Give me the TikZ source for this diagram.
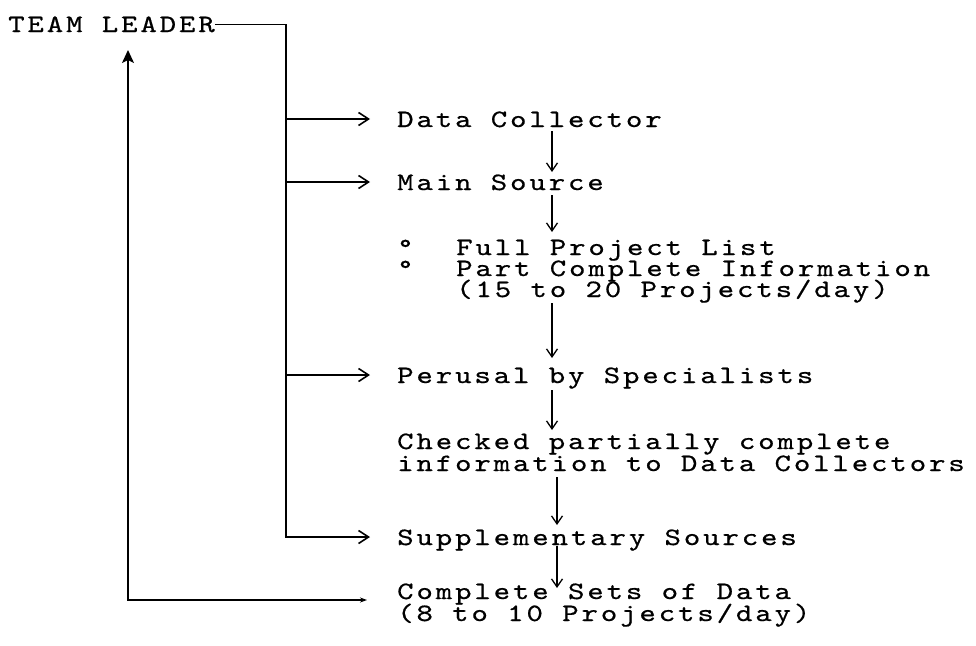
\documentclass[tikz,border=0pt]{standalone}
\usepackage{fontspec}
\usetikzlibrary{arrows.meta}
\newfontfamily\typewfam{lmmono10-regular.otf}[FakeStretch=1.25,LetterSpace=11.6,FakeBold=0.6]
\newcommand\typew{\typewfam\fontsize{25}{25}\selectfont}
\begin{document}
\begin{tikzpicture}[x=1pt,y=-1pt,
  every node/.style={inner sep=0pt, anchor=base west, font=\typew},
  main/.style={line width=1.6pt},
  br/.style={line width=1.6pt,-{Straight Barb[length=10pt,width=13pt,line width=1.6pt]}},
  dn/.style={line width=1.1pt,-{Straight Barb[length=8pt,width=11pt,line width=1.3pt]}}]
\useasboundingbox (0,0) rectangle (976,645);
\coordinate (bx) at (286,0);
\coordinate (xa) at (552,0);
\coordinate (xb) at (557,0);
\coordinate (fx) at (128,0);
% texts
\node (tl) at (8,32) {TEAM LEADER};
\node (dc) at (397,127) {Data Collector};
\node (ms) at (397,190) {Main Source};
\node (b1) at (397,255) {°};
\node (fp) at (456,255) {Full Project List};
\node (b2) at (397,276) {°};
\node (pc) at (456,276) {Part Complete Information};
\node (pd) at (456,297) {(15 to 20 Projects/day)};
\node (ps) at (397,383) {Perusal by Specialists};
\node (ck) at (397,449) {Checked partially complete};
\node (inf) at (397,471) {information to Data Collectors};
\node (ss) at (397,545) {Supplementary Sources};
\node (cs) at (397,599) {Complete Sets of Data};
\node (cp) at (397,621) {(8 to 10 Projects/day)};
% bus from team leader
\draw[br] (tl.east) -| ([yshift=8pt]ss.base west -| bx) -- ([xshift=-27pt,yshift=8pt]ss.base west);
\draw[br] ([yshift=8pt]dc.base west -| bx) -- ([xshift=-27pt,yshift=8pt]dc.base west);
\draw[br] ([yshift=8pt]ms.base west -| bx) -- ([xshift=-27pt,yshift=8pt]ms.base west);
\draw[br] ([yshift=8pt]ps.base west -| bx) -- ([xshift=-27pt,yshift=8pt]ps.base west);
% feedback
\draw[main,{Stealth[length=13pt,width=12pt,inset=3pt]}-{Stealth[length=7pt,width=5pt]}]
  ([yshift=-18pt]tl.base -| fx) |- ([xshift=-30pt,yshift=-1pt]cs.base west);
% vertical flow arrows
\draw[dn] ([yshift=-4pt]dc.base -| xa) -- ([yshift=18pt]ms.base -| xa);
\draw[dn] ([yshift=-5pt]ms.base -| xa) -- ([yshift=23pt]fp.base -| xa);
\draw[dn] ([yshift=-6pt]pd.base -| xa) -- ([yshift=25pt]ps.base -| xa);
\draw[dn] ([yshift=-7pt]ps.base -| xa) -- ([yshift=19pt]ck.base -| xa);
\draw[dn] ([yshift=-6pt]inf.base -| xb) -- ([yshift=20pt]ss.base -| xb);
\draw[dn] ([yshift=-1pt]ss.base -| xb) -- ([yshift=11pt]cs.base -| xb);
\end{tikzpicture}
\end{document}
